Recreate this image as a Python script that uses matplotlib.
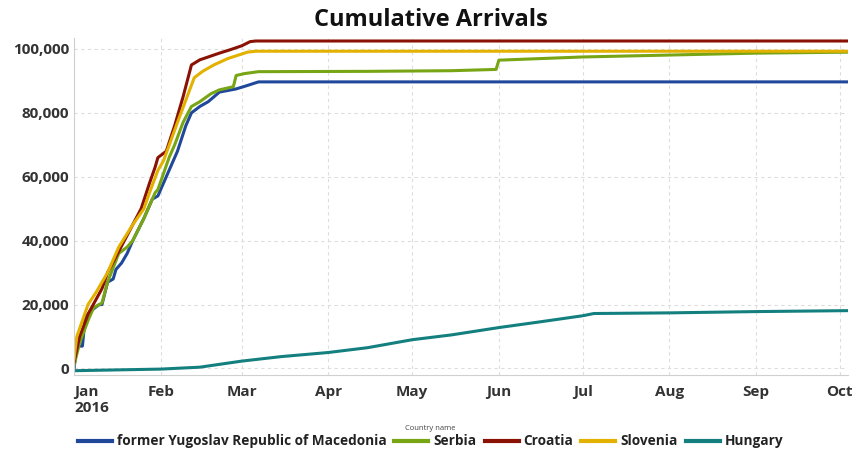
import numpy as np
import matplotlib
matplotlib.use('Agg')
import matplotlib.pyplot as plt
from matplotlib.ticker import FuncFormatter

plt.rcParams['font.family'] = ['Open Sans', 'DejaVu Sans']

# (cumulative arrivals, 2016)
fyrom_dates = ['2016-01-01', '2016-01-02', '2016-01-04', '2016-01-05', '2016-01-07', '2016-01-10',
               '2016-01-11', '2016-01-13', '2016-01-15', '2016-01-16', '2016-01-18', '2016-01-20',
               '2016-01-22', '2016-01-26', '2016-01-29', '2016-01-31', '2016-02-03', '2016-02-07',
               '2016-02-10', '2016-02-12', '2016-02-15', '2016-02-18', '2016-02-22', '2016-02-28',
               '2016-03-02', '2016-03-07', '2016-10-04']
fyrom_vals = [0, 7000, 7000, 16000, 18000, 20000, 20000, 27000, 28000, 31000, 33000, 36000,
              40000, 47000, 53000, 54000, 60000, 68000, 76000, 80000, 82000, 83500, 86500, 87500,
              88300, 89700, 89700]

serbia_dates = ['2016-01-01', '2016-01-03', '2016-01-06', '2016-01-08', '2016-01-11', '2016-01-13',
                '2016-01-17', '2016-01-20', '2016-01-22', '2016-01-26', '2016-01-30', '2016-01-31',
                '2016-02-04', '2016-02-06', '2016-02-09', '2016-02-12', '2016-02-15', '2016-02-19',
                '2016-02-22', '2016-02-27', '2016-02-28', '2016-03-02', '2016-03-07', '2016-04-15',
                '2016-05-15', '2016-05-31', '2016-06-01', '2016-07-01', '2016-08-01', '2016-09-01',
                '2016-10-04']
serbia_vals = [1000, 8000, 15000, 19000, 20500, 27000, 36000, 38000, 40000, 47000, 55000, 56000,
               66000, 70000, 77000, 82000, 83500, 86000, 87200, 88200, 91700, 92300, 92900, 93000,
               93200, 93600, 96500, 97500, 98100, 98700, 99000]

croatia_dates = ['2016-01-01', '2016-01-03', '2016-01-06', '2016-01-11', '2016-01-13', '2016-01-19',
                 '2016-01-22', '2016-01-25', '2016-01-28', '2016-01-30', '2016-01-31', '2016-02-03',
                 '2016-02-06', '2016-02-09', '2016-02-12', '2016-02-15', '2016-02-18', '2016-02-22',
                 '2016-02-26', '2016-03-01', '2016-03-04', '2016-03-06', '2016-10-04']
croatia_vals = [2000, 10000, 17000, 25000, 30000, 40000, 45000, 50000, 58000, 63000, 66000, 68000,
                76000, 85000, 95000, 96600, 97500, 98700, 99800, 101000, 102300, 102500, 102500]

slovenia_dates = ['2016-01-01', '2016-01-02', '2016-01-06', '2016-01-09', '2016-01-13', '2016-01-17',
                  '2016-01-22', '2016-01-26', '2016-01-28', '2016-01-31', '2016-02-02', '2016-02-07',
                  '2016-02-13', '2016-02-16', '2016-02-20', '2016-02-25', '2016-03-03', '2016-03-06',
                  '2016-10-04']
slovenia_vals = [3000, 10000, 20000, 24000, 30000, 38000, 45000, 50000, 55000, 62000, 65000, 77000,
                 91000, 93000, 95000, 97000, 99000, 99300, 99300]

hungary_dates = ['2016-01-01', '2016-02-01', '2016-02-15', '2016-03-01', '2016-03-15', '2016-04-01',
                 '2016-04-15', '2016-05-01', '2016-05-15', '2016-06-01', '2016-06-15', '2016-07-01',
                 '2016-07-05', '2016-08-01', '2016-09-01', '2016-10-04']
hungary_vals = [-700, -200, 400, 2300, 3700, 5000, 6500, 9000, 10500, 12800, 14500, 16500,
                17200, 17400, 17800, 18100]

series = [
    ('former Yugoslav Republic of Macedonia', fyrom_dates, fyrom_vals, '#20489a'),
    ('Serbia', serbia_dates, serbia_vals, '#78a514'),
    ('Croatia', croatia_dates, croatia_vals, '#8a1204'),
    ('Slovenia', slovenia_dates, slovenia_vals, '#e3b100'),
    ('Hungary', hungary_dates, hungary_vals, '#13807f'),
]

fig = plt.figure(figsize=(8.66, 4.5), dpi=100)
ax = fig.add_axes([0.0855, 0.167, 0.894, 0.749])

for name, d, v, c in series:
    ax.plot(np.array(d, dtype='datetime64[D]'), v, color=c, lw=2.2, label=name,
            solid_joinstyle='round')

ax.set_xlim(np.datetime64('2016-01-01'), np.datetime64('2016-10-04'))
ax.set_ylim(-2000, 103500)
ax.set_yticks([0, 20000, 40000, 60000, 80000, 100000])
ax.yaxis.set_major_formatter(FuncFormatter(lambda v, p: f'{int(v):,}'))

months = np.arange('2016-01', '2016-11', dtype='datetime64[M]').astype('datetime64[D]')
ax.set_xticks(months)
ax.set_xticklabels(['Jan\n2016', 'Feb', 'Mar', 'Apr', 'May', 'Jun', 'Jul', 'Aug', 'Sep', 'Oct'])

ax.grid(True, color='#dddddd', ls=(0, (3, 3)), lw=0.8)
ax.set_axisbelow(True)
for s in ['top', 'right']:
    ax.spines[s].set_visible(False)
for s in ['left', 'bottom']:
    ax.spines[s].set_color('#d0d0d0')
ax.tick_params(length=0, labelsize=11, colors='#333333')
ax.tick_params(axis='x', pad=7)
for lab in ax.get_xticklabels() + ax.get_yticklabels():
    lab.set_fontweight('bold')
xl = ax.get_xticklabels()
xl[0].set_horizontalalignment('left')
xl[0].set_multialignment('left')

fig.text(0.497, 0.955, 'Cumulative Arrivals', ha='center', va='center',
         fontsize=17, fontweight='bold', color='#111111')

leg = fig.legend(loc='lower center', bbox_to_anchor=(0.497, -0.016), ncol=5, frameon=False,
                 title='Country name', handlelength=2.5, columnspacing=0.6, handletextpad=0.35,
                 borderpad=0.15, labelspacing=0.2,
                 prop={'size': 9.8, 'weight': 'bold'}, title_fontsize=5.5)
leg.get_title().set_color('#444444')
for t in leg.get_texts():
    t.set_color('#222222')
for h in leg.legend_handles:
    h.set_linewidth(3)

fig.savefig('out.png', dpi=100)
